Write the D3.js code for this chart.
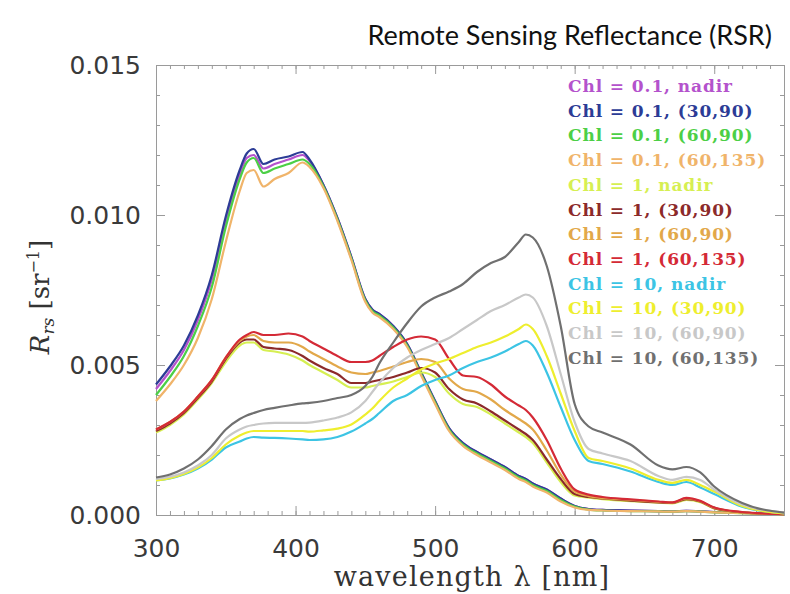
<!DOCTYPE html>
<html>
<head>
<meta charset="utf-8">
<script src="https://cdn.jsdelivr.net/npm/d3@7"></script>
<style>
  body { margin: 0; background: #fff; }
  svg { display: block; }
</style>
</head>
<body>
<div id="chart"></div>
<script>
// wavelength grid (nm) the curves were read at
var wavelengths = [300,310,320,330,340,350,360,365,370,377,385,395,405,410,420,430,440,450,455,460,470,480,490,500,510,520,530,540,550,560,565,570,580,590,600,610,620,640,660,670,680,690,700,720,750]

// Rrs values, units of 1e-3 sr^-1
var chl01Nadir  = [4.2,4.8,5.5,6.5,7.85,9.8,11.35,11.9,12.0,11.55,11.7,11.85,12.0,11.8,11.0,9.9,8.6,7.2,6.85,6.7,6.3,5.7,4.75,3.8,2.9,2.4,2.1,1.85,1.6,1.3,1.2,1.05,0.85,0.55,0.3,0.2,0.17,0.15,0.13,0.12,0.14,0.12,0.1,0.07,0.04]
var chl01_3090  = [4.35,4.95,5.65,6.65,8.0,9.95,11.5,12.05,12.2,11.7,11.85,11.95,12.1,11.85,11.0,9.9,8.6,7.2,6.85,6.7,6.3,5.7,4.75,3.8,2.9,2.4,2.1,1.85,1.6,1.3,1.2,1.05,0.85,0.55,0.3,0.2,0.17,0.15,0.13,0.12,0.14,0.12,0.1,0.07,0.04]
var chl01_6090  = [4.0,4.6,5.3,6.3,7.6,9.6,11.2,11.75,11.9,11.4,11.55,11.7,11.85,11.7,10.95,9.85,8.55,7.15,6.8,6.65,6.25,5.65,4.7,3.75,2.85,2.35,2.05,1.8,1.55,1.25,1.15,1.0,0.8,0.5,0.28,0.18,0.15,0.13,0.12,0.11,0.13,0.11,0.09,0.06,0.03]
var chl01_60135 = [3.8,4.35,5.0,5.9,7.2,9.1,10.8,11.4,11.5,10.95,11.2,11.4,11.75,11.6,10.9,9.8,8.5,7.1,6.75,6.6,6.2,5.6,4.65,3.7,2.8,2.3,2.0,1.75,1.5,1.2,1.1,0.95,0.75,0.45,0.25,0.17,0.15,0.13,0.12,0.11,0.13,0.11,0.09,0.06,0.03]
var chl1Nadir   = [2.75,3.0,3.35,3.85,4.4,5.1,5.65,5.75,5.75,5.5,5.45,5.35,5.15,5.0,4.75,4.5,4.25,4.25,4.3,4.35,4.45,4.6,4.75,4.6,4.05,3.7,3.6,3.35,3.05,2.75,2.6,2.4,1.75,1.1,0.65,0.58,0.53,0.46,0.41,0.39,0.5,0.43,0.22,0.08,0.03]
var chl1_3090   = [2.8,3.05,3.4,3.9,4.45,5.2,5.75,5.85,5.85,5.6,5.55,5.5,5.3,5.15,4.9,4.7,4.4,4.4,4.45,4.5,4.6,4.75,4.9,4.75,4.2,3.85,3.72,3.45,3.15,2.85,2.7,2.5,1.85,1.2,0.7,0.6,0.55,0.48,0.42,0.4,0.53,0.45,0.23,0.09,0.03]
var chl1_6090   = [2.85,3.1,3.45,3.95,4.5,5.25,5.8,5.95,6.0,5.8,5.75,5.75,5.6,5.45,5.2,4.95,4.75,4.7,4.75,4.8,4.95,5.1,5.2,5.1,4.55,4.2,4.1,3.85,3.5,3.2,3.05,2.85,2.15,1.35,0.78,0.63,0.57,0.5,0.44,0.41,0.55,0.46,0.24,0.09,0.03]
var chl1_60135  = [2.85,3.1,3.45,3.95,4.5,5.25,5.85,6.0,6.1,6.0,6.0,6.05,5.95,5.8,5.55,5.3,5.1,5.1,5.15,5.3,5.6,5.85,5.95,5.85,5.2,4.65,4.6,4.35,3.95,3.65,3.5,3.25,2.5,1.55,0.85,0.68,0.6,0.52,0.45,0.42,0.57,0.47,0.25,0.1,0.03]
var chl10Nadir  = [1.15,1.22,1.35,1.55,1.85,2.25,2.45,2.55,2.6,2.58,2.57,2.55,2.52,2.5,2.52,2.6,2.78,3.05,3.2,3.4,3.8,4.0,4.3,4.5,4.65,4.9,5.1,5.25,5.45,5.7,5.8,5.65,4.75,3.6,2.5,1.8,1.7,1.45,1.1,1.0,1.1,0.92,0.7,0.28,0.05]
var chl10_3090  = [1.15,1.23,1.37,1.58,1.9,2.35,2.65,2.75,2.8,2.8,2.8,2.8,2.8,2.78,2.82,2.88,3.02,3.35,3.55,3.8,4.25,4.55,4.85,5.05,5.2,5.4,5.6,5.75,5.95,6.2,6.35,6.2,5.3,4.05,2.8,1.9,1.8,1.55,1.17,1.07,1.17,1.0,0.78,0.3,0.05]
var chl10_6090  = [1.2,1.28,1.42,1.65,2.0,2.55,2.85,2.95,3.0,3.05,3.07,3.07,3.07,3.08,3.15,3.25,3.42,3.8,4.1,4.4,4.9,5.25,5.5,5.7,5.9,6.2,6.5,6.8,7.0,7.25,7.35,7.25,6.3,4.7,3.1,2.2,2.05,1.8,1.3,1.17,1.27,1.17,0.85,0.35,0.08]
var chl10_60135 = [1.25,1.35,1.55,1.85,2.3,2.85,3.2,3.32,3.4,3.5,3.57,3.65,3.72,3.74,3.8,3.9,4.0,4.3,4.6,5.05,5.75,6.4,6.95,7.25,7.45,7.7,8.1,8.4,8.6,9.1,9.35,9.25,8.3,6.3,3.7,2.95,2.75,2.35,1.65,1.52,1.6,1.42,0.95,0.4,0.08]

var seriesNames = ["Chl = 0.1, nadir","Chl = 0.1, (30,90)","Chl = 0.1, (60,90)","Chl = 0.1, (60,135)",
                   "Chl = 1, nadir","Chl = 1, (30,90)","Chl = 1, (60,90)","Chl = 1, (60,135)",
                   "Chl = 10, nadir","Chl = 10, (30,90)","Chl = 10, (60,90)","Chl = 10, (60,135)"]
var seriesValues = [chl01Nadir,chl01_3090,chl01_6090,chl01_60135,chl1Nadir,chl1_3090,chl1_6090,chl1_60135,
                    chl10Nadir,chl10_3090,chl10_6090,chl10_60135]
var seriesColors = ["#b452cc","#2c3c96","#4ccf46","#f0b46a","#d6ef52","#8c2a2a","#e2a84a","#d42a36",
                    "#3cc4e4","#eeee2e","#c8c8c8","#707070"]

var xTicks = [300,400,500,600,700]
var yTicks = [0,0.005,0.010,0.015]

// frame
var margin = {top: 65, right: 6, bottom: 79, left: 156}
var width = 790 - margin.left - margin.right
var height = 594 - margin.top - margin.bottom

var svg = d3.select("#chart")
    .append("svg")
    .attr("width", 790)
    .attr("height", 594)

var g = svg.append("g")
    .attr("transform", "translate(" + margin.left + "," + margin.top + ")")

var x = d3.scaleLinear().domain([300, 750]).range([0, width])
var y = d3.scaleLinear().domain([0, 0.015]).range([height, 0])

var tickColor = "#9a9a9a"

// minor ticks, all four sides
function minorAxis(axis, vals, size) {
    return axis.tickValues(vals).tickSize(size).tickFormat("")
}
var xMinor = d3.range(300, 751, 10)
var yMinor = d3.range(0, 0.0151, 0.001)

g.append("g").attr("transform", "translate(0," + height + ")")
    .call(minorAxis(d3.axisBottom(x), xMinor, -4))
g.append("g").call(minorAxis(d3.axisTop(x), xMinor, -4))
g.append("g").call(minorAxis(d3.axisLeft(y), yMinor, -4))
g.append("g").attr("transform", "translate(" + width + ",0)")
    .call(minorAxis(d3.axisRight(y), yMinor, -4))

// major ticks
g.append("g").attr("class", "xax").attr("transform", "translate(0," + height + ")")
    .call(d3.axisBottom(x).tickValues(xTicks).tickSize(-9).tickPadding(24).tickFormat(d3.format("d")))
g.append("g").call(minorAxis(d3.axisTop(x), xTicks, -9))
g.append("g").attr("class", "yax")
    .call(d3.axisLeft(y).tickValues(yTicks).tickSize(-9).tickPadding(15).tickFormat(d3.format(".3f")))
g.append("g").attr("transform", "translate(" + width + ",0)")
    .call(minorAxis(d3.axisRight(y), yTicks, -9))

g.selectAll(".domain").attr("stroke", tickColor)
g.selectAll(".tick line").attr("stroke", tickColor)
g.selectAll(".tick text")
    .attr("fill", "#3a3a3a")
    .style("font-family", "DejaVu Sans")
    .style("font-size", "25px")

// curves
var line = d3.line()
    .x(function(d, i) { return x(wavelengths[i]) })
    .y(function(d) { return y(d / 1000) })
    .curve(d3.curveMonotoneX)

g.selectAll(".curve")
    .data(seriesValues)
    .enter()
    .append("path")
    .attr("class", "curve")
    .attr("fill", "none")
    .attr("stroke", function(d, i) { return seriesColors[i] })
    .attr("stroke-width", 2.2)
    .attr("d", line)

// legend
g.selectAll(".leg")
    .data(seriesNames)
    .enter()
    .append("text")
    .attr("class", "leg")
    .attr("x", 412)
    .attr("y", function(d, i) { return 27 + i * 24.7 })
    .attr("fill", function(d, i) { return seriesColors[i] })
    .style("font-family", "DejaVu Serif")
    .style("font-weight", "bold")
    .style("font-size", "17px")
    .style("letter-spacing", "0.9px")
    .text(function(d) { return d })

// title
svg.append("text")
    .attr("x", 772)
    .attr("y", 45)
    .attr("text-anchor", "end")
    .style("font-family", "Lato")
    .style("font-size", "27px")
    .attr("fill", "#111")
    .text("Remote Sensing Reflectance (RSR)")

// x label
svg.append("text")
    .attr("x", 472)
    .attr("y", 586)
    .attr("text-anchor", "middle")
    .style("font-family", "DejaVu Serif")
    .style("font-size", "27px")
    .style("letter-spacing", "1.2px")
    .attr("fill", "#333")
    .text("wavelength λ [nm]")

// y label
var ylab = svg.append("text")
    .attr("transform", "translate(49,297) rotate(-90)")
    .attr("text-anchor", "middle")
    .style("font-family", "DejaVu Serif")
    .style("font-size", "26px")
    .attr("fill", "#333")
ylab.append("tspan").style("font-style", "italic").text("R")
ylab.append("tspan").style("font-style", "italic").style("font-size", "17px").attr("dy", 5).text("rs")
ylab.append("tspan").attr("dy", -5).text(" [sr")
ylab.append("tspan").style("font-size", "16px").attr("dy", -10).text("−1")
ylab.append("tspan").attr("dy", 10).text("]")
</script>
</body>
</html>
